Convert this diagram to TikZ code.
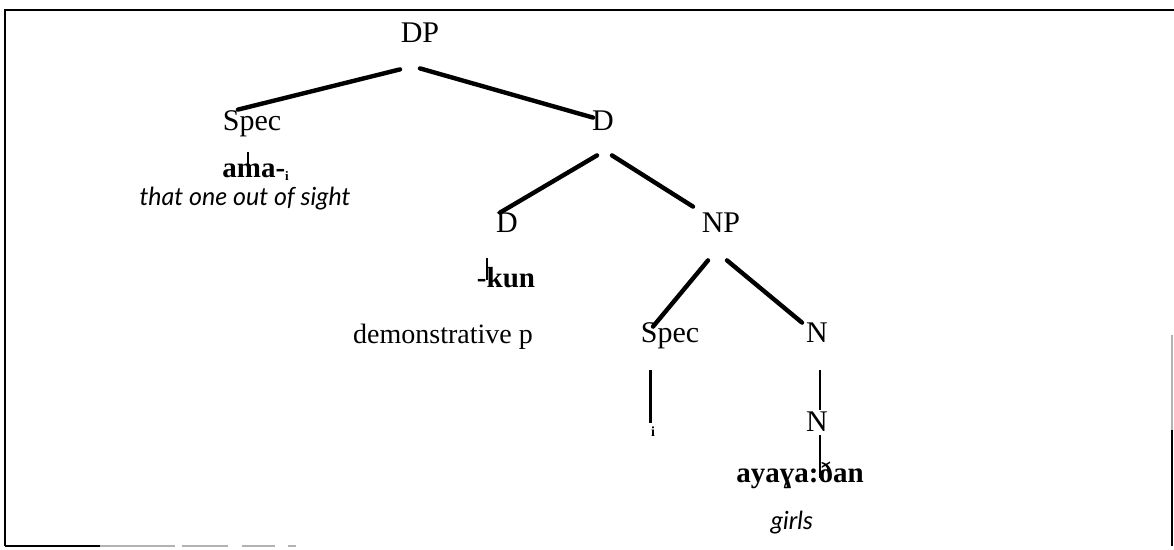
\documentclass[tikz,border=0pt]{standalone}
\usepackage{fontspec}
\setmainfont{Liberation Serif}
\newfontfamily\glossfont{Lato}
\newcommand{\idxsub}[1]{\raisebox{-1.5pt}{\fontsize{6.5}{7}\selectfont #1}}
\begin{document}
\begin{tikzpicture}[x=0.5pt,y=-0.5pt,
  cat/.style={inner sep=0pt, anchor=base, font=\fontsize{15}{18}\selectfont, text height=10pt, text depth=0pt},
  word/.style={inner sep=0pt, anchor=base, font=\fontsize{14.5}{17}\selectfont\bfseries},
  gloss/.style={inner sep=0pt, anchor=base, font=\fontsize{12.5}{15}\selectfont\glossfont\itshape},
  plain/.style={inner sep=0pt, anchor=base, font=\fontsize{14}{17}\selectfont},
  idxlab/.style={inner sep=0pt, anchor=base, font=\fontsize{7}{8}\selectfont\bfseries},
  edge/.style={line width=2.2pt, line cap=round},
  stem/.style={line width=1.1pt},
  frame/.style={line width=1pt}]
\useasboundingbox (0,0) rectangle (1174,550);
% frame
\draw[frame] (5,546) -- (5,10) -- (1174,10);
\draw[frame] (5,546) -- (100,546);
\draw[frame, gray!60] (100,546) -- (175,546) (182,546) -- (228,546) (242,546) -- (275,546) (288,546) -- (296,546);
\draw[frame, gray!60] (1172,335) -- (1172,430);
\draw[frame] (1172,430) -- (1172,546);
% nodes
\node[cat] (DP) at (420,43) {DP};
\node[cat] (SpecA) at (252,131) {Spec};
\node[cat] (Dbar) at (603,131) {D};
\node[word, anchor=base west] (ama) at (222,178) {ama-\idxsub{i}};
\node[gloss] (glA) at (245,206) {that one out of sight};
\node[cat] (Dzero) at (507,233) {D};
\node[cat] (NP) at (721,233) {NP};
\node[word] (kun) at (506,288) {-kun};
\node[plain] (dem) at (443,344) {demonstrative p};
\node[cat] (SpecB) at (670,343) {Spec};
\node[cat] (Nbar) at (817,343) {N};
\node[idxlab] (idx) at (653,437) {i};
\node[cat] (Nzero) at (817,432) {N};
\node[word] (aya) at (800,483) {ayaɣa:ðan};
\node[gloss] (glB) at (792,530) {girls};
% connectors
\draw[edge] ([xshift=-10pt,yshift=-13pt]DP.south) -- ([xshift=-7pt,yshift=0.5pt]SpecA.north);
\draw[edge] ([yshift=-12.5pt]DP.south) -- ([xshift=-5pt,yshift=-3.5pt]Dbar.north);
\draw[edge] ([xshift=-3pt,yshift=-12pt]Dbar.south) -- ([xshift=-3.5pt]Dzero.north);
\draw[edge] ([xshift=4.5pt,yshift=-12pt]Dbar.south) -- ([xshift=-14pt,yshift=3pt]NP.north);
\draw[edge] ([xshift=-6.5pt,yshift=-13.5pt]NP.south) -- ([xshift=-8.5pt,yshift=-2pt]SpecB.north);
\draw[edge] ([xshift=3pt,yshift=-13.5pt]NP.south) -- ([xshift=-7.5pt]Nbar.north);
\draw[stem] ([xshift=-2pt,yshift=-10.5pt]SpecA.south) -- ([xshift=-2pt,yshift=-20.5pt]SpecA.south);
\draw[stem] ([xshift=-10pt,yshift=-12.5pt]Dzero.south) -- ([xshift=-10pt,yshift=-23.5pt]Dzero.south);
\draw[line width=1.5pt] ([xshift=-10pt,yshift=-13.5pt]SpecB.south) -- ([xshift=-1.5pt,yshift=2pt]idx.north);
\draw[stem] ([xshift=1.5pt,yshift=-13.5pt]Nbar.south) -- ([xshift=1.5pt,yshift=1pt]Nzero.north);
\draw[stem] ([xshift=1.5pt,yshift=-1.5pt]Nzero.south) -- ([xshift=10pt,yshift=-8pt]aya.north);
\end{tikzpicture}
\end{document}
